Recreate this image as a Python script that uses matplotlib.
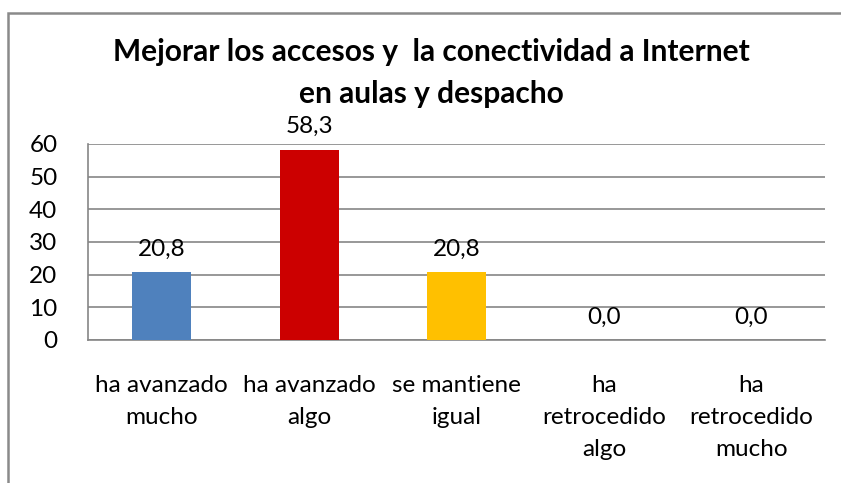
import matplotlib
matplotlib.use("Agg")
import matplotlib.pyplot as plt
from matplotlib.lines import Line2D

categories = ["ha avanzado\nmucho", "ha avanzado\nalgo", "se mantiene\nigual",
              "ha\nretrocedido\nalgo", "ha\nretrocedido\nmucho"]
values = [20.8, 58.3, 20.8, 0.0, 0.0]
colors = ["#4F81BD", "#CC0000", "#FFC000", "#9BBB59", "#8064A2"]
yticks = [0, 10, 20, 30, 40, 50, 60]
title = "Mejorar los accesos y  la conectividad a Internet\nen aulas y despacho"

plt.rcParams['font.family'] = ['Lato', 'DejaVu Sans']

W, H = 841, 483
fig = plt.figure(figsize=(W/100, H/100), dpi=100)
fig.patch.set_facecolor("white")
bx, by = 7.5 / W, 1 - 12.5 / H
fig.lines.append(Line2D([bx, bx, 1.0], [0.0, by, by], transform=fig.transFigure,
                        color="#8a8a8a", linewidth=1.8, solid_joinstyle="miter"))

left, right, top, bottom = 88, 825, 144, 340
ax = fig.add_axes([left/W, 1 - bottom/H, (right-left)/W, (bottom-top)/H])
x = list(range(len(categories)))
ax.bar(x, values, width=0.40, color=colors, zorder=3)
ax.set_xlim(-0.5, len(categories) - 0.5)
ax.set_ylim(0, 60)
ax.set_yticks(yticks)
ax.set_yticklabels([str(t) for t in yticks], fontsize=17.5)
ax.yaxis.grid(True, color="#868686", linewidth=1.2, zorder=0)
ax.set_xticks(x)
ax.set_xticklabels(categories, fontsize=17.5, linespacing=1.66, va="top")
ax.tick_params(axis="x", length=0, pad=25)
ax.tick_params(axis="y", length=0, pad=22)
for s in ["top", "right"]:
    ax.spines[s].set_visible(False)
for s in ["left", "bottom"]:
    ax.spines[s].set_color("#868686")
    ax.spines[s].set_linewidth(1.2)

for xi, v in zip(x, values):
    ax.annotate(f"{v:.1f}".replace(".", ","), (xi, v), xytext=(0, 9),
                textcoords="offset points", ha="center", va="bottom", fontsize=17.5)

fig.text(431 / W, 1 - 73 / H, title, ha="center", va="center",
         fontsize=21.5, fontweight="bold", linespacing=1.65)

fig.savefig("out.png", dpi=100)
